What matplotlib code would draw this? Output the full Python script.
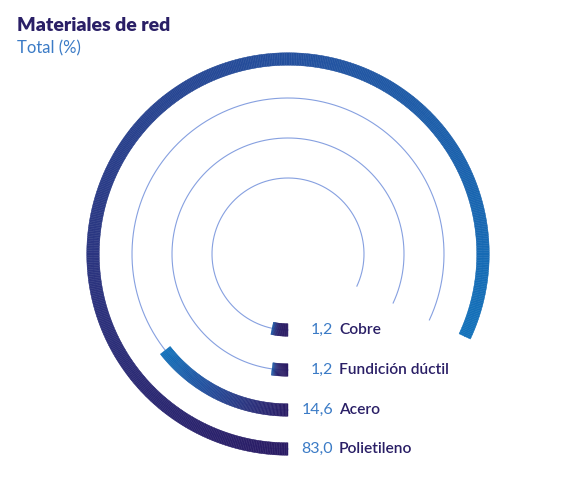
import numpy as np
import matplotlib
matplotlib.use("Agg")
import matplotlib.pyplot as plt
from matplotlib.collections import PolyCollection
from matplotlib.colors import LinearSegmentedColormap

# Materiales de red - total (%)
categories = ["Cobre", "Fundición dúctil", "Acero", "Polietileno"]
values = [1.2, 1.2, 14.6, 83.0]
value_labels = ["1,2", "1,2", "14,6", "83,0"]

title = "Materiales de red"
subtitle = "Total (%)"

navy = "#2a1f66"
blue_txt = "#3b7bc6"
track_col = "#86a0e0"

cmap = LinearSegmentedColormap.from_list(
    "ring", [(0.0, "#2a1b64"), (0.3, "#2b3580"), (0.62, "#23509e"), (1.0, "#1271ba")])

W, H = 574, 494
fig = plt.figure(figsize=(W / 100, H / 100), dpi=100)
ax = fig.add_axes([0, 0, 1, 1])
ax.set_xlim(0, W)
ax.set_ylim(0, H)
ax.set_aspect("equal")
ax.axis("off")

plt.rcParams["font.family"] = ["Lato", "DejaVu Sans"]

cx, cy = 288, 240
radii = [76, 116, 156, 195]
ring_w = 12.5
deg_per_unit = 295.0 / 83.0
min_len_px = 16
track_sweep = max(values) * deg_per_unit


def arc_pts(r, a0, a1, n):
    a = np.radians(np.linspace(a0, a1, n))
    return np.column_stack([cx + r * np.cos(a), cy + r * np.sin(a)])


for r, v, lab, vl in zip(radii, values, categories, value_labels):
    # thin track
    tr = arc_pts(r, -90, -90 - track_sweep, 400)
    ax.plot(tr[:, 0], tr[:, 1], color=track_col, lw=0.8, zorder=1)

    sweep = max(v * deg_per_unit, np.degrees(min_len_px / r))
    n = max(8, int(sweep * 2))
    angs = np.linspace(-90, -90 - sweep, n + 1)
    polys = []
    for a0, a1 in zip(angs[:-1], angs[1:]):
        outer = arc_pts(r + ring_w / 2, a0, a1, 3)
        inner = arc_pts(r - ring_w / 2, a1, a0, 3)
        polys.append(np.vstack([outer, inner]))
    # short bars only light up right at their end
    gamma = 4 if sweep < 20 else 1
    t = np.linspace(0, 1, n) ** gamma
    if sweep < 20:
        t = t * 0.7
    cols = cmap(t)
    pc = PolyCollection(polys, facecolors=cols, edgecolors=cols, linewidths=0.3, zorder=2)
    ax.add_collection(pc)

    y = cy - r
    ax.text(cx + 45, y, vl, color=blue_txt, fontsize=11.5, ha="right", va="center")
    ax.text(cx + 51, y, lab, color=navy, fontsize=11.2, ha="left", va="center",
            fontweight="semibold")

ax.text(17, H - 31, title, color=navy, fontsize=14, fontweight="heavy",
        ha="left", va="baseline")
ax.text(17, H - 53, subtitle, color=blue_txt, fontsize=12, ha="left", va="baseline")

fig.savefig("out.png", dpi=100)
